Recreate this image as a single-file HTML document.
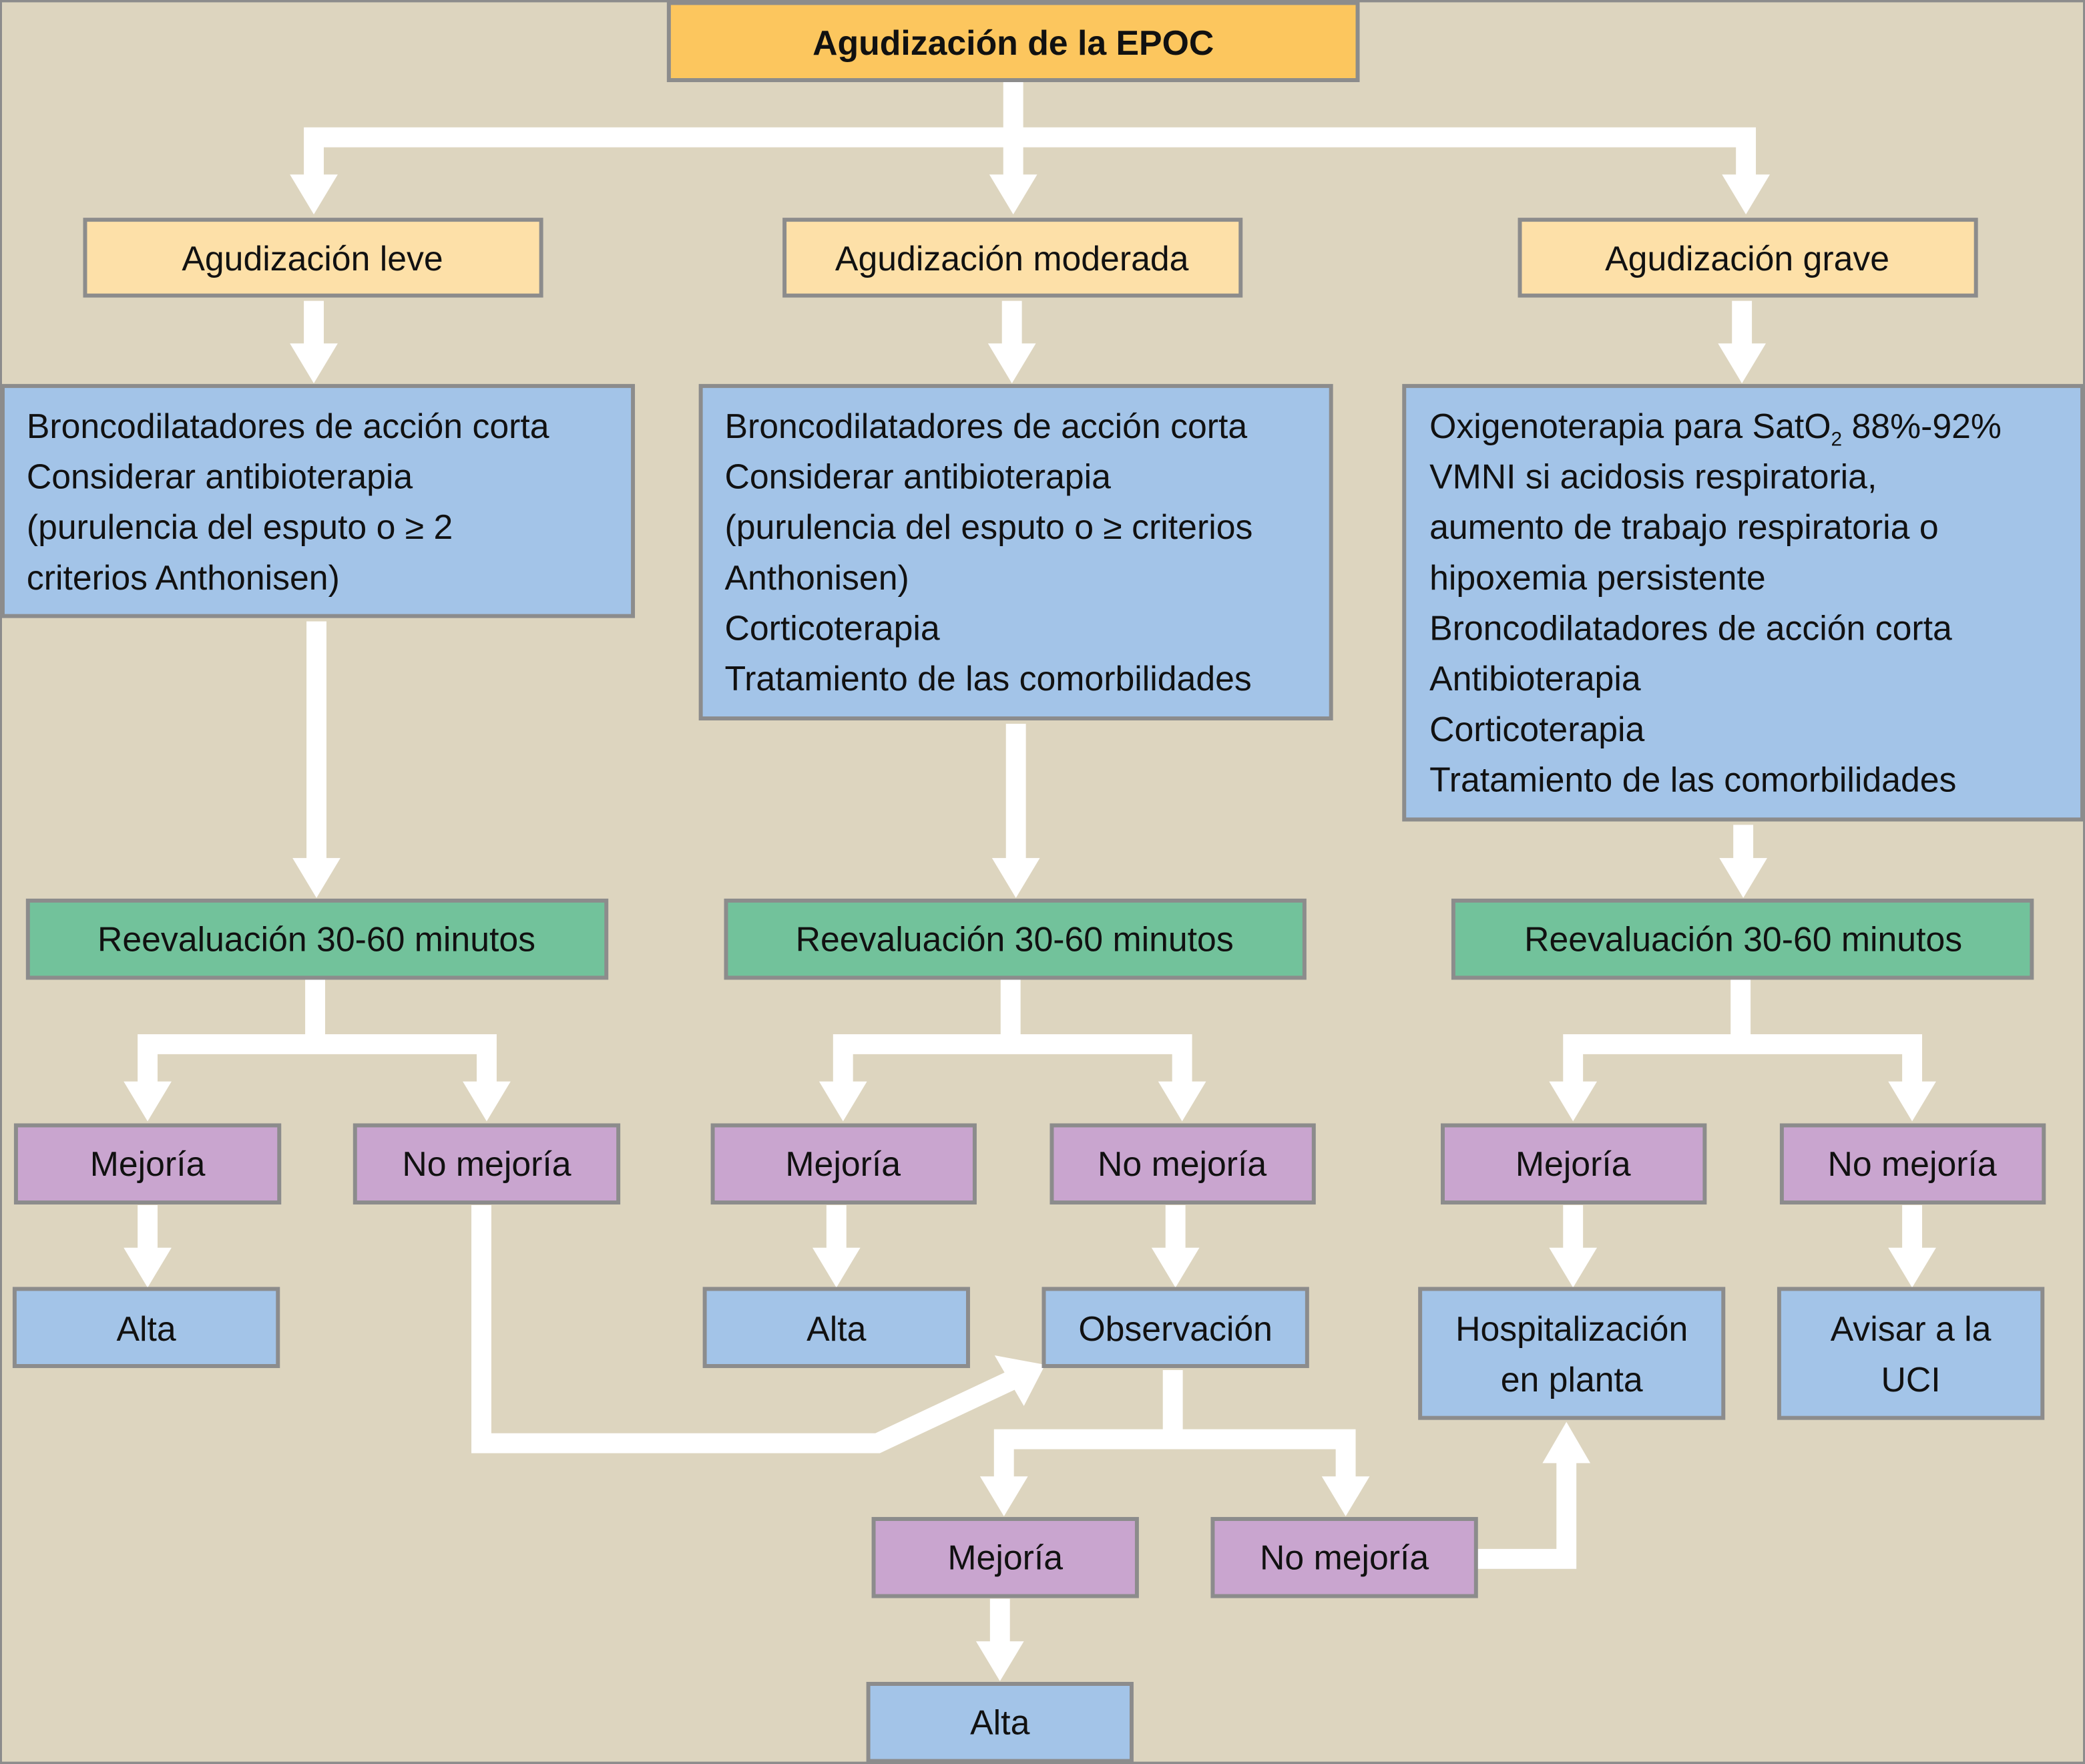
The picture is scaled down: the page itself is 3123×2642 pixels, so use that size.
<!DOCTYPE html>
<html><head><meta charset="utf-8"><style>
html,body{margin:0;padding:0;background:#ddd5bf}
svg{display:block}
text{font-family:"Liberation Sans",sans-serif;font-size:26px;fill:#111}
.c{text-anchor:middle}
rect{stroke:#8c8c8c;stroke-width:3}
.w{stroke:#fff;stroke-width:15;fill:none;stroke-linejoin:miter}
.h{fill:#fff}
</style></head><body>
<svg width="3123" height="2642" viewBox="0 0 1568 1326" xmlns="http://www.w3.org/2000/svg">
<rect x="0" y="0" width="1568" height="1326" fill="#ddd5bf" stroke="none"/>
<!-- connectors -->
<g class="w">
<path d="M762 60V103M236 133V103H1313V133M762 103V133"/>
<path d="M236 226V260M761 226V260M1310 226V260"/>
<path d="M238 467V647M764 544V647M1311 620V647"/>
<path d="M237 736V785M111 815V785H366V815"/>
<path d="M760 736V785M634 815V785H889V815"/>
<path d="M1309 736V785M1183 815V785H1438V815"/>
<path d="M111 906V940M629 906V940M884 906V940M1183 906V940M1438 906V940"/>
<path d="M362 906V1085H660L760 1038"/>
<path d="M882 1030V1082M755 1112V1082H1012V1112"/>
<path d="M1110 1172H1178V1098"/>
<path d="M752 1202V1236"/>
</g>
<g class="h">
<polygon points="218,131 254,131 236,161"/><polygon points="744,131 780,131 762,161"/><polygon points="1295,131 1331,131 1313,161"/>
<polygon points="218,258 254,258 236,288"/><polygon points="743,258 779,258 761,288"/><polygon points="1292,258 1328,258 1310,288"/>
<polygon points="220,645 256,645 238,675"/><polygon points="746,645 782,645 764,675"/><polygon points="1293,645 1329,645 1311,675"/>
<polygon points="93,813 129,813 111,843"/><polygon points="348,813 384,813 366,843"/>
<polygon points="616,813 652,813 634,843"/><polygon points="871,813 907,813 889,843"/>
<polygon points="1165,813 1201,813 1183,843"/><polygon points="1420,813 1456,813 1438,843"/>
<polygon points="93,938 129,938 111,968"/><polygon points="611,938 647,938 629,968"/><polygon points="866,938 902,938 884,968"/><polygon points="1165,938 1201,938 1183,968"/><polygon points="1420,938 1456,938 1438,968"/>
<polygon points="748,1019 786,1026 770,1057"/>
<polygon points="737,1110 773,1110 755,1140"/><polygon points="994,1110 1030,1110 1012,1140"/>
<polygon points="1160,1100 1196,1100 1178,1069"/>
<polygon points="734,1234 770,1234 752,1264"/>
</g>
<!-- boxes -->
<rect x="503" y="2" width="518" height="58" fill="#fcc65e"/>
<text x="762" y="41" class="c" font-weight="bold">Agudización de la EPOC</text>
<rect x="64" y="165" width="343" height="57" fill="#fde0a8"/><text x="235" y="203" class="c">Agudización leve</text>
<rect x="590" y="165" width="343" height="57" fill="#fde0a8"/><text x="761" y="203" class="c">Agudización moderada</text>
<rect x="1143" y="165" width="343" height="57" fill="#fde0a8"/><text x="1314" y="203" class="c">Agudización grave</text>

<rect x="2" y="290" width="474" height="173" fill="#a3c4e8"/>
<text x="20" y="329">Broncodilatadores de acción corta</text><text x="20" y="367">Considerar antibioterapia</text><text x="20" y="405">(purulencia del esputo o ≥ 2</text><text x="20" y="443">criterios Anthonisen)</text>
<rect x="527" y="290" width="474" height="250" fill="#a3c4e8"/>
<text x="545" y="329">Broncodilatadores de acción corta</text><text x="545" y="367">Considerar antibioterapia</text><text x="545" y="405">(purulencia del esputo o ≥ criterios</text><text x="545" y="443">Anthonisen)</text><text x="545" y="481">Corticoterapia</text><text x="545" y="519">Tratamiento de las comorbilidades</text>
<rect x="1056" y="290" width="510" height="326" fill="#a3c4e8"/>
<text x="1075" y="329">Oxigenoterapia para SatO<tspan font-size="15" dy="6">2</tspan><tspan dy="-6"> 88%-92%</tspan></text><text x="1075" y="367">VMNI si acidosis respiratoria,</text><text x="1075" y="405">aumento de trabajo respiratoria o</text><text x="1075" y="443">hipoxemia persistente</text><text x="1075" y="481">Broncodilatadores de acción corta</text><text x="1075" y="519">Antibioterapia</text><text x="1075" y="557">Corticoterapia</text><text x="1075" y="595">Tratamiento de las comorbilidades</text>

<rect x="21" y="677" width="435" height="58" fill="#72c29b"/><text x="238" y="715" class="c">Reevaluación 30-60 minutos</text>
<rect x="546" y="677" width="435" height="58" fill="#72c29b"/><text x="763" y="715" class="c">Reevaluación 30-60 minutos</text>
<rect x="1093" y="677" width="435" height="58" fill="#72c29b"/><text x="1311" y="715" class="c">Reevaluación 30-60 minutos</text>

<rect x="12" y="846" width="198" height="58" fill="#c9a5cf"/><text x="111" y="884" class="c">Mejoría</text>
<rect x="267" y="846" width="198" height="58" fill="#c9a5cf"/><text x="366" y="884" class="c">No mejoría</text>
<rect x="536" y="846" width="197" height="58" fill="#c9a5cf"/><text x="634" y="884" class="c">Mejoría</text>
<rect x="791" y="846" width="197" height="58" fill="#c9a5cf"/><text x="889" y="884" class="c">No mejoría</text>
<rect x="1085" y="846" width="197" height="58" fill="#c9a5cf"/><text x="1183" y="884" class="c">Mejoría</text>
<rect x="1340" y="846" width="197" height="58" fill="#c9a5cf"/><text x="1438" y="884" class="c">No mejoría</text>

<rect x="11" y="969" width="198" height="58" fill="#a3c4e8"/><text x="110" y="1008" class="c">Alta</text>
<rect x="530" y="969" width="198" height="58" fill="#a3c4e8"/><text x="629" y="1008" class="c">Alta</text>
<rect x="785" y="969" width="198" height="58" fill="#a3c4e8"/><text x="884" y="1008" class="c">Observación</text>
<rect x="1068" y="969" width="228" height="97" fill="#a3c4e8"/><text x="1182" y="1008" class="c">Hospitalización</text><text x="1182" y="1046" class="c">en planta</text>
<rect x="1338" y="969" width="198" height="97" fill="#a3c4e8"/><text x="1437" y="1008" class="c">Avisar a la</text><text x="1437" y="1046" class="c">UCI</text>

<rect x="657" y="1142" width="198" height="58" fill="#c9a5cf"/><text x="756" y="1180" class="c">Mejoría</text>
<rect x="912" y="1142" width="198" height="58" fill="#c9a5cf"/><text x="1011" y="1180" class="c">No mejoría</text>
<rect x="653" y="1266" width="198" height="58" fill="#a3c4e8"/><text x="752" y="1304" class="c">Alta</text>
</svg>
</body></html>
